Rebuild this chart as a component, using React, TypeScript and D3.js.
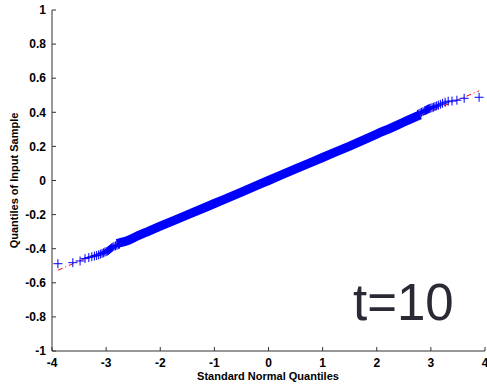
import React from "react";
import * as d3 from "d3";

// theoretical (standard normal) quantiles of the extreme points, n ~ 10000
const tailQuantiles = [
  3.891, 3.615, 3.481, 3.39, 3.32, 3.264, 3.216, 3.175, 3.138, 3.106, 3.076, 3.05,
  3.023, 2.999, 2.977, 2.957, 2.938, 2.92, 2.902, 2.886, 2.856, 2.828, 2.802, 2.778, 2.754,
];
// sample values at those ranks, low end and high end
const lowTail = [
  -0.488, -0.482, -0.472, -0.458, -0.452, -0.447, -0.443, -0.44, -0.436, -0.432, -0.428, -0.424,
  -0.42, -0.417, -0.414, -0.41, -0.405, -0.4, -0.396, -0.392, -0.387, -0.383, -0.38, -0.377, -0.374,
];
const highTail = [
  0.488, 0.482, 0.471, 0.466, 0.465, 0.459, 0.453, 0.447, 0.442, 0.438, 0.434, 0.43,
  0.427, 0.425, 0.422, 0.42, 0.417, 0.414, 0.411, 0.409, 0.404, 0.4, 0.396, 0.392, 0.388,
];

// the dense middle of the sample (thousands of overlapping markers)
const bodyX = [-2.8, -2.6, -2.4, -2.2, -2.0, -1.5, -1.0, -0.5, 0, 0.5, 1.0, 1.5, 2.0, 2.4, 2.6, 2.8];
const bodyY = [-0.37, -0.352, -0.322, -0.295, -0.268, -0.202, -0.135, -0.068, 0, 0.068, 0.135, 0.202, 0.272, 0.328, 0.357, 0.385];

// reference line through the quartiles, drawn over the data range
const refX = [-3.891, 3.891];
const refY = [-0.526, 0.526];

const xTicks = [-4, -3, -2, -1, 0, 1, 2, 3, 4];
const yTicks = [-1, -0.8, -0.6, -0.4, -0.2, 0, 0.2, 0.4, 0.6, 0.8, 1];

const W = 487;
const H = 384;
const font = "'Liberation Sans', Arial, sans-serif";

export default function App() {
  const x = d3.scaleLinear().domain([-4, 4]).range([52, 485]);
  const y = d3.scaleLinear().domain([-1, 1]).range([351, 10]);

  const line = d3
    .line<[number, number]>()
    .x((d) => x(d[0]))
    .y((d) => y(d[1]));

  const body = bodyX.map((v, i) => [v, bodyY[i]] as [number, number]);
  const ref = refX.map((v, i) => [v, refY[i]] as [number, number]);
  const tails: [number, number][] = [
    ...tailQuantiles.map((q, i) => [-q, lowTail[i]] as [number, number]),
    ...tailQuantiles.map((q, i) => [q, highTail[i]] as [number, number]),
  ];
  const arm = 4.5;
  const axisColor = "#333";

  return (
    <svg
      width={W}
      height={H}
      style={{ position: "absolute", left: 0, top: 0, background: "#fff" }}
      fontFamily={font}
    >
      <rect width={W} height={H} fill="#fff" />

      {/* reference line */}
      <path d={line(ref) ?? ""} fill="none" stroke="#ff0000" strokeWidth={1} strokeDasharray="5,3,1,3" />

      {/* dense body of the sample */}
      <path d={line.curve(d3.curveMonotoneX)(body) ?? ""} fill="none" stroke="#0000ff" strokeWidth={9} />

      {/* individual markers at the tails */}
      {tails.map((d, i) => (
        <path
          key={i}
          d={`M${x(d[0]) - arm},${y(d[1])}H${x(d[0]) + arm}M${x(d[0])},${y(d[1]) - arm}V${y(d[1]) + arm}`}
          stroke="#0000ff"
          strokeWidth={1}
          fill="none"
        />
      ))}

      {/* axes */}
      <line x1={x(-4)} x2={x(-4)} y1={y(1)} y2={y(-1)} stroke={axisColor} strokeWidth={1} />
      <line x1={x(-4)} x2={x(4)} y1={y(-1)} y2={y(-1)} stroke={axisColor} strokeWidth={1} />
      {yTicks.map((t) => (
        <g key={t}>
          <line x1={x(-4)} x2={x(-4) + 4} y1={y(t)} y2={y(t)} stroke={axisColor} />
          <text x={46} y={y(t)} dy="0.35em" textAnchor="end" fontSize={12} fontWeight="bold" fill="#000">
            {t}
          </text>
        </g>
      ))}
      {xTicks.map((t) => (
        <g key={t}>
          <line x1={x(t)} x2={x(t)} y1={y(-1)} y2={y(-1) - 4} stroke={axisColor} />
          <text x={x(t)} y={367} textAnchor="middle" fontSize={12} fontWeight="bold" fill="#000">
            {t}
          </text>
        </g>
      ))}

      <text x={268} y={380} textAnchor="middle" fontSize={11} fontWeight="bold" fill="#000">
        Standard Normal Quantiles
      </text>
      <text
        transform={`translate(18,${y(0)}) rotate(-90)`}
        textAnchor="middle"
        fontSize={11}
        fontWeight="bold"
        fill="#000"
      >
        Quantiles of Input Sample
      </text>

      <text x={353} y={320} fontSize={51} fill="#2a2a35">
        t=10
      </text>
    </svg>
  );
}
